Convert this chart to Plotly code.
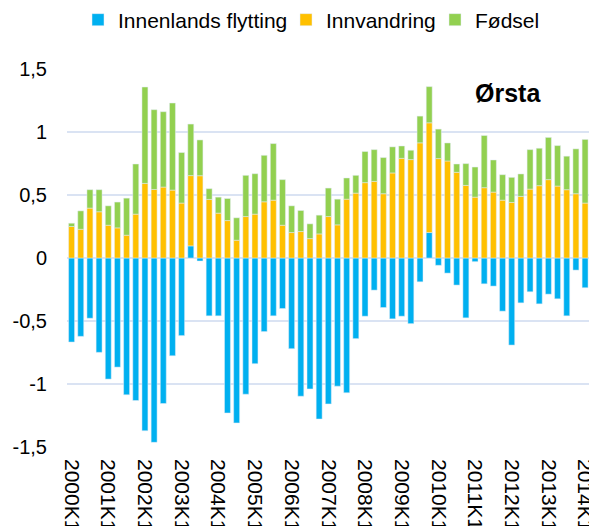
import plotly.graph_objects as go

# quarters 2000K1 .. 2014K2 (last bar cut by the right edge)
quarters = [f"{y}K{q}" for y in range(2000, 2015) for q in range(1, 5)][:58]

innenlands = [-0.667, -0.622, -0.478, -0.749, -0.961, -0.866, -1.086, -1.131,
              -1.371, -1.463, -1.155, -0.776, -0.616, 0.096, -0.024, -0.459,
              -0.459, -1.230, -1.309, -1.081, -0.839, -0.584, -0.459, -0.401,
              -0.720, -1.097, -1.039, -1.278, -1.158, -1.017, -1.070, -0.640,
              -0.462, -0.255, -0.393, -0.483, -0.462, -0.521, -0.189, 0.202,
              -0.058, -0.120, -0.215, -0.475, -0.029, -0.205, -0.223, -0.422,
              -0.691, -0.356, -0.268, -0.364, -0.287, -0.324, -0.459, -0.096,
              -0.236, -0.266]
innvandring = [0.250, 0.228, 0.396, 0.367, 0.260, 0.239, 0.181, 0.348,
               0.592, 0.544, 0.563, 0.539, 0.436, 0.558, 0.653, 0.465,
               0.356, 0.297, 0.141, 0.329, 0.348, 0.446, 0.459, 0.260,
               0.202, 0.210, 0.154, 0.191, 0.329, 0.263, 0.467, 0.515,
               0.598, 0.608, 0.510, 0.675, 0.791, 0.781, 0.914, 0.871,
               0.789, 0.770, 0.680, 0.576, 0.483, 0.558, 0.523, 0.459,
               0.441, 0.489, 0.547, 0.574, 0.622, 0.571, 0.542, 0.510,
               0.436, 0.444]
fodsel = [0.026, 0.146, 0.146, 0.175, 0.154, 0.205, 0.294, 0.398,
          0.765, 0.633, 0.598, 0.691, 0.401, 0.409, 0.284, 0.085,
          0.127, 0.175, 0.178, 0.327, 0.321, 0.369, 0.449, 0.362,
          0.212, 0.167, 0.117, 0.149, 0.226, 0.204, 0.168, 0.141,
          0.247, 0.252, 0.287, 0.207, 0.098, 0.074, 0.212, 0.287,
          0.234, 0.143, 0.066, 0.173, 0.239, 0.414, 0.255, 0.202,
          0.199, 0.178, 0.313, 0.297, 0.335, 0.321, 0.266, 0.356,
          0.505, 0.284]

y_ticks = [-1.5, -1, -0.5, 0, 0.5, 1, 1.5]
y_labels = ["-1,5", "-1", "-0,5", "0", "0,5", "1", "1,5"]
x_ticks = quarters[::4]

W, H = 589, 518  # page body adds 8px on top/left, so the figure is that much smaller

fig = go.Figure()
fig.add_trace(go.Bar(x=quarters, y=innenlands, name="Innenlands flytting",
                     marker_color="#00B0F0", legend="legend"))
fig.add_trace(go.Bar(x=quarters, y=innvandring, name="Innvandring",
                     marker_color="#FFC000", legend="legend2"))
fig.add_trace(go.Bar(x=quarters, y=fodsel, name="Fødsel",
                     marker_color="#92D050", legend="legend3"))


# one legend per trace so each entry can sit where the original has it
def leg(xpx):
    return dict(orientation="h", yref="container", xref="container",
                x=xpx / W, y=1 - 12 / H, xanchor="left", yanchor="middle",
                font=dict(size=21), itemclick=False, bgcolor="rgba(0,0,0,0)",
                visible=True)


fig.update_layout(
    width=W, height=H, showlegend=True,
    barmode="relative", bargap=0.35,
    plot_bgcolor="white", paper_bgcolor="white",
    font=dict(family="Liberation Sans, Arial, sans-serif", size=20, color="black"),
    margin=dict(l=58.5, r=0, t=61, b=79, autoexpand=False),
    legend=leg(70), legend2=leg(278), legend3=leg(427),
    annotations=[dict(text="<b>Ørsta</b>", xref="paper", yref="paper",
                      x=0.832, y=0.9365, xanchor="center", yanchor="middle",
                      showarrow=False, font=dict(size=25, color="black"))],
)
fig.update_xaxes(type="category", range=[-0.5, 57.3], tickmode="array",
                 tickvals=x_ticks, ticktext=x_ticks, tickangle=90,
                 tickfont=dict(size=21),
                 showgrid=False, showline=False, zeroline=False,
                 automargin=False, ticklabelstandoff=11)
fig.update_yaxes(range=[-1.5, 1.5], tickvals=y_ticks, ticktext=y_labels,
                 showgrid=True, gridcolor="#DAE3F3", gridwidth=2,
                 zeroline=False, showline=False,
                 automargin=False, ticklabelstandoff=19)

fig.write_html("out.html")
